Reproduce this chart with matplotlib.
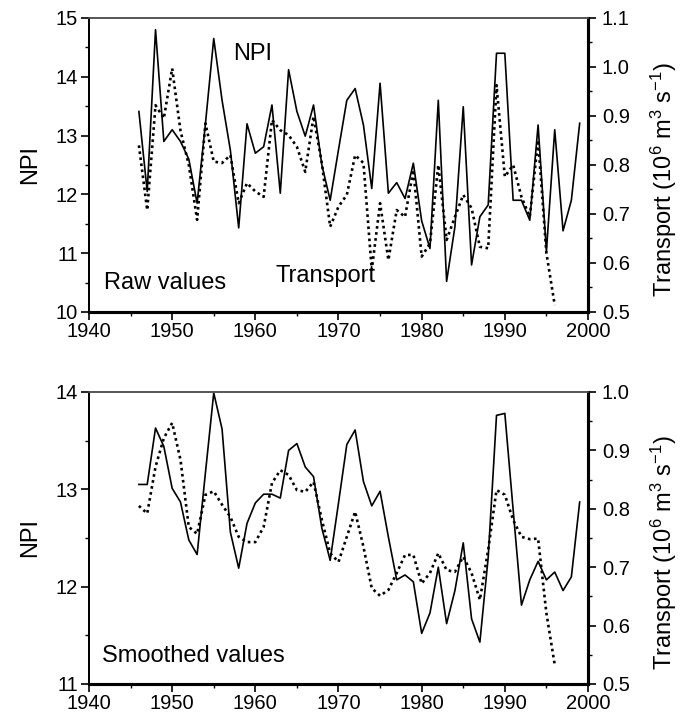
import matplotlib
matplotlib.use("Agg")
import matplotlib.pyplot as plt
from matplotlib.ticker import MultipleLocator

plt.rcParams["font.family"] = ["Liberation Sans", "DejaVu Sans"]
plt.rcParams["mathtext.default"] = "regular"
plt.rcParams["axes.unicode_minus"] = True

years = list(range(1946, 2000))
years_tr = list(range(1946, 1997))

# raw values
npi_raw = [13.41, 12.05, 14.8, 12.9, 13.1, 12.9, 12.6, 11.85, 13.2, 14.65,
           13.6, 12.75, 11.43, 13.2, 12.7, 12.81, 13.52, 12.02, 14.12, 13.41,
           12.99, 13.52, 12.5, 11.9, 12.76, 13.6, 13.8, 13.18, 12.1, 13.89,
           12.02, 12.2, 11.93, 12.53, 11.55, 11.08, 13.6, 10.52, 11.45, 13.49,
           10.8, 11.62, 11.82, 14.4, 14.4, 11.9, 11.9, 11.56, 13.18, 11.03,
           13.1, 11.38, 11.9, 13.21]
tr_raw = [0.84, 0.708, 0.922, 0.895, 0.997, 0.87, 0.80, 0.688, 0.885, 0.807,
          0.804, 0.82, 0.722, 0.763, 0.746, 0.735, 0.892, 0.871, 0.861, 0.837,
          0.786, 0.899, 0.803, 0.674, 0.715, 0.739, 0.82, 0.804, 0.586, 0.722,
          0.606, 0.708, 0.694, 0.79, 0.613, 0.64, 0.80, 0.647, 0.694, 0.739,
          0.712, 0.633, 0.63, 0.963, 0.776, 0.80, 0.735, 0.694, 0.851, 0.62,
          0.514]

# smoothed values
npi_sm = [13.05, 13.05, 13.63, 13.44, 13.01, 12.87, 12.48, 12.33, 13.17, 13.99,
          13.62, 12.56, 12.19, 12.65, 12.86, 12.95, 12.95, 12.91, 13.4, 13.47,
          13.23, 13.13, 12.6, 12.27, 12.86, 13.46, 13.61, 13.08, 12.83, 12.98,
          12.51, 12.07, 12.12, 12.05, 11.52, 11.73, 12.2, 11.62, 11.96, 12.45,
          11.67, 11.43, 12.3, 13.76, 13.78, 12.79, 11.81, 12.07, 12.26, 12.07,
          12.15, 11.96, 12.1, 12.87]
tr_sm = [0.805, 0.792, 0.872, 0.921, 0.947, 0.884, 0.769, 0.757, 0.824, 0.83,
         0.807, 0.786, 0.752, 0.743, 0.743, 0.769, 0.844, 0.866, 0.858, 0.832,
         0.829, 0.846, 0.781, 0.724, 0.709, 0.752, 0.795, 0.735, 0.664, 0.651,
         0.661, 0.69, 0.721, 0.721, 0.672, 0.69, 0.724, 0.695, 0.692, 0.718,
         0.69, 0.644, 0.73, 0.832, 0.824, 0.781, 0.752, 0.748, 0.749, 0.621,
         0.533]

FS = 14.5   # tick labels
LFS = 17    # axis labels and annotations
fig = plt.figure(figsize=(6.83, 7.19), dpi=100)


def style_axes(ax, ax2, ylim, ylim2, tick2):
    ax.set_xlim(1940, 2000)
    ax.set_ylim(*ylim)
    ax2.set_ylim(*ylim2)
    ax.xaxis.set_major_locator(MultipleLocator(10))
    ax.xaxis.set_minor_locator(MultipleLocator(5))
    ax.yaxis.set_major_locator(MultipleLocator(1))
    ax.yaxis.set_minor_locator(MultipleLocator(0.5))
    ax2.yaxis.set_minor_locator(MultipleLocator(0.05))
    ax2.set_yticks(tick2)
    ax2.set_yticklabels([f"{t:.1f}" for t in tick2])
    for a in (ax, ax2):
        a.tick_params(which="major", direction="out", length=6, width=1.2,
                      labelsize=FS, pad=2)
        a.tick_params(which="minor", direction="out", length=3, width=1.0)
    ax.tick_params(axis="x", pad=1)
    ax2.tick_params(axis="y", which="major", pad=4)
    for a in (ax, ax2):
        a.spines["top"].set_color("#555555")
        a.spines["top"].set_linewidth(1.2)
        a.spines["left"].set_linewidth(1.3)
        a.spines["bottom"].set_linewidth(2.2)
        a.spines["right"].set_linewidth(2.2)
    ax.set_ylabel("NPI", fontsize=LFS)
    ax.yaxis.set_label_coords(-0.095, 0.5)
    ax2.set_ylabel("Transport (10$^6$ m$^3$ s$^{-1}$)", fontsize=LFS)
    ax2.yaxis.set_label_coords(1.122, 0.45)


# top panel: raw values
ax1 = fig.add_axes([0.1303, 0.5661, 0.7306, 0.4089])
ax1b = ax1.twinx()
ax1.plot(years, npi_raw, color="black", lw=1.2)
ax1b.plot(years_tr, tr_raw, color="black", lw=1.9, ls=(0, (1, 1.3)))
style_axes(ax1, ax1b, (10, 15), (0.5, 1.1),
           [0.5, 0.6, 0.7, 0.8, 0.9, 1.0, 1.1])
ax1.text(1959.7, 14.39, "NPI", fontsize=LFS, ha="center", va="center")
ax1.text(1949.2, 10.49, "Raw values", fontsize=LFS, ha="center", va="center")
ax1.text(1968.5, 10.61, "Transport", fontsize=LFS, ha="center", va="center")

# bottom panel: smoothed values
ax2 = fig.add_axes([0.1303, 0.0487, 0.7306, 0.4061])
ax2b = ax2.twinx()
ax2.plot(years, npi_sm, color="black", lw=1.2)
ax2b.plot(years_tr, tr_sm, color="black", lw=1.9, ls=(0, (1, 1.3)))
style_axes(ax2, ax2b, (11, 14), (0.5, 1.0),
           [0.5, 0.6, 0.7, 0.8, 0.9, 1.0])
ax2.text(1941.6, 11.29, "Smoothed values", fontsize=LFS, ha="left", va="center")

fig.savefig("out.png", dpi=100)
